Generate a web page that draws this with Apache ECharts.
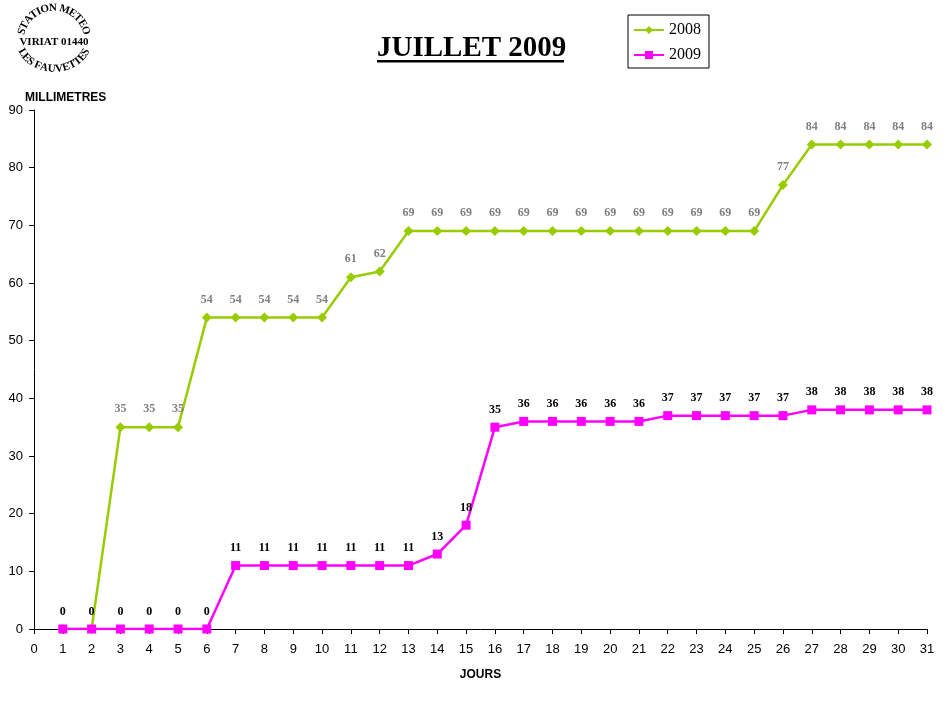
<!DOCTYPE html>
<html>
<head>
<meta charset="utf-8">
<script src="https://cdn.jsdelivr.net/npm/echarts@6/dist/echarts.min.js"></script>
<style>html,body{margin:0;padding:0;background:#fff}#c{width:949px;height:715px}</style>
</head>
<body>
<div id="c"></div>
<script>
const days = [1,2,3,4,5,6,7,8,9,10,11,12,13,14,15,16,17,18,19,20,21,22,23,24,25,26,27,28,29,30,31];
const values2008 = [0,0,35,35,35,54,54,54,54,54,61,62,69,69,69,69,69,69,69,69,69,69,69,69,69,77,84,84,84,84,84];
const values2009 = [0,0,0,0,0,0,11,11,11,11,11,11,11,13,18,35,36,36,36,36,36,37,37,37,37,37,38,38,38,38,38];
const seriesNames = ['2008','2009'];
const titleText = 'JUILLET 2009';
const yTitle = 'MILLIMETRES';
const xTitle = 'JOURS';
const logoTop = 'STATION METEO';
const logoMid = 'VIRIAT 01440';
const logoBottom = 'LES FAUVETTES';

const chart = echarts.init(document.getElementById('c'));

const LOGO_FONT = 'bold 11px "Liberation Serif", serif';
const measureCtx = document.createElement('canvas').getContext('2d');
measureCtx.font = LOGO_FONT;

// logo text along an elliptical arc, letters spread by their widths
function arcText(str, cx, cy, rx, ry, startDeg, endDeg, top) {
  const chars = Array.from(str);
  const widths = chars.map(ch => measureCtx.measureText(ch).width);
  const total = widths.reduce((a, b) => a + b, 0);
  const els = [];
  let acc = 0;
  for (let i = 0; i < chars.length; i++) {
    const f = (acc + widths[i] / 2) / total;
    acc += widths[i];
    const a = (startDeg + (endDeg - startDeg) * f) * Math.PI / 180;
    const x = cx + rx * Math.cos(a);
    const y = cy - ry * Math.sin(a);
    const rot = top
      ? Math.atan2(-ry * Math.cos(a), rx * Math.sin(a))
      : Math.atan2(ry * Math.cos(a), -rx * Math.sin(a));
    els.push({
      type: 'text', x: x, y: y, rotation: rot,
      style: { text: chars[i], font: LOGO_FONT, fill: '#000', align: 'center', verticalAlign: 'middle' }
    });
  }
  return els;
}
const cx = 54, cy = 40;
const logoEls = []
  .concat(arcText(logoTop, cx, cy, 33, 32, 170, 10, true))
  .concat(arcText(logoBottom, cx, cy, 35, 29, 200, 340, false));
logoEls.push({ type: 'text', x: cx, y: 42, style: { text: logoMid, font: 'bold 11px "Liberation Serif", serif', fill: '#000', align: 'center', verticalAlign: 'middle' } });

const option = {
  backgroundColor: '#fff',
  animation: false,
  title: {
    text: titleText, left: 377, top: 34, padding: 0,
    textStyle: { fontFamily: '"Liberation Serif", serif', fontWeight: 'bold', fontSize: 29, color: '#000' }
  },
  legend: {
    orient: 'vertical', left: 628, top: 15,
    data: seriesNames,
    borderColor: '#000', borderWidth: 1, borderRadius: 0,
    padding: [7, 8, 5, 5], itemGap: 9, itemWidth: 30, itemHeight: 10,
    textStyle: { fontFamily: '"Liberation Serif", serif', fontSize: 16, color: '#000' }
  },
  grid: { left: 34, right: 22, top: 110, bottom: 86, containLabel: false },
  xAxis: {
    type: 'value', min: 0, max: 31, interval: 1,
    name: xTitle, nameLocation: 'middle', nameGap: 40,
    nameTextStyle: { fontFamily: '"Liberation Sans", Arial, sans-serif', fontWeight: 'bold', fontSize: 12, color: '#000' },
    axisLine: { lineStyle: { color: '#000', width: 1 } },
    axisTick: { show: true, length: 5, lineStyle: { color: '#000' } },
    axisLabel: { fontFamily: '"Liberation Sans", Arial, sans-serif', fontSize: 13, color: '#000', margin: 14 },
    splitLine: { show: false }
  },
  yAxis: {
    type: 'value', min: 0, max: 90, interval: 10,
    name: yTitle, nameLocation: 'end', nameGap: 6,
    nameTextStyle: { fontFamily: '"Liberation Sans", Arial, sans-serif', fontWeight: 'bold', fontSize: 12, color: '#000', align: 'left', padding: [0, 0, 0, -9] },
    axisLine: { show: true, lineStyle: { color: '#000', width: 1 } },
    axisTick: { show: true, length: 5, lineStyle: { color: '#000' } },
    axisLabel: { fontFamily: '"Liberation Sans", Arial, sans-serif', fontSize: 13, color: '#000', margin: 11 },
    splitLine: { show: false }
  },
  graphic: [
    { type: 'rect', shape: { x: 377, y: 60, width: 187, height: 2.5 }, style: { fill: '#000' } }
  ].concat(logoEls),
  series: [
    {
      name: seriesNames[0], type: 'line',
      data: days.map((d, i) => [d, values2008[i]]),
      symbol: 'diamond', symbolSize: 10,
      lineStyle: { color: '#99CC00', width: 2.5 },
      itemStyle: { color: '#99CC00' },
      label: {
        show: true, position: 'top', distance: 7,
        formatter: p => (p.value[1] === 0 ? '' : String(p.value[1])),
        fontFamily: '"Liberation Serif", serif', fontWeight: 'bold', fontSize: 12, color: '#808080'
      },
      z: 2
    },
    {
      name: seriesNames[1], type: 'line',
      data: days.map((d, i) => [d, values2009[i]]),
      symbol: 'rect', symbolSize: 9,
      lineStyle: { color: '#FF00FF', width: 2.5 },
      itemStyle: { color: '#FF00FF' },
      label: {
        show: true, position: 'top', distance: 7,
        formatter: p => String(p.value[1]),
        fontFamily: '"Liberation Serif", serif', fontWeight: 'bold', fontSize: 12, color: '#000'
      },
      z: 3
    }
  ]
};
chart.setOption(option);
</script>
</body>
</html>
